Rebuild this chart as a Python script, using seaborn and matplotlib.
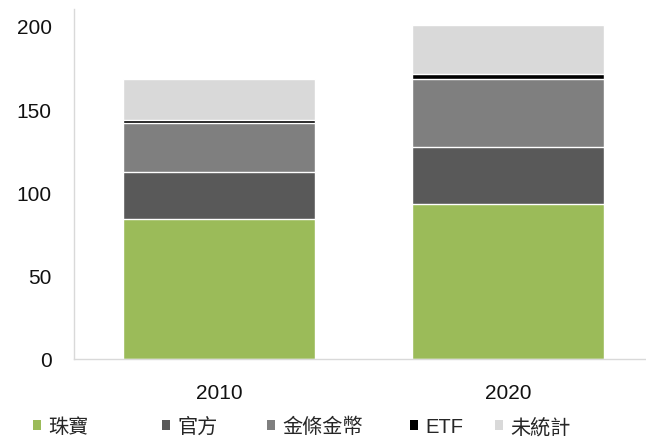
import numpy as np
import pandas as pd
import matplotlib
matplotlib.use("Agg")
import matplotlib.pyplot as plt
from matplotlib.patches import Patch
import seaborn as sns

# Gold demand by sector, stacked per year
years = ["2010", "2020"]
series_names = ["珠寶", "官方", "金條金幣", "ETF", "未統計"]
jewelry = [84, 93]
official = [28.5, 34.5]
bars_coins = [29, 40.5]
etf = [2, 3]
unaccounted = [24.5, 29.5]
colors = ["#9BBB59", "#595959", "#7F7F7F", "#000000", "#D9D9D9"]
yticks = [0, 50, 100, 150, 200]

sns.set_theme(style="white")
plt.rcParams["font.family"] = ["Liberation Sans", "Noto Sans CJK TC", "DejaVu Sans"]

fig = plt.figure(figsize=(6.46, 4.39), dpi=100)
ax = fig.add_axes([0.1146, 0.18, 0.8854, 0.797])

layers = [jewelry, official, bars_coins, etf, unaccounted]
cum = np.cumsum(np.array(layers, dtype=float), axis=0)
df = pd.DataFrame({"year": np.tile(years, len(layers)),
                   "layer": np.repeat(np.arange(len(layers)), len(years)),
                   "top": cum.ravel()})

# Draw cumulative totals from the tallest down so each segment shows its own band
for i in reversed(range(len(layers))):
    sub = df[df["layer"] == i]
    sns.barplot(data=sub, x="year", y="top", color=colors[i], saturation=1,
                width=0.666, edgecolor="white", linewidth=1.0, ax=ax,
                order=years)

ax.set_xlim(-0.502, 1.478)
ax.set_ylim(0, 210)
ax.set_yticks(yticks)
ax.set_xlabel("")
ax.set_ylabel("")
ax.tick_params(axis="y", length=0, pad=16, labelsize=15, labelcolor="#111111")
ax.tick_params(axis="x", length=0, pad=17, labelsize=15, labelcolor="#111111")
for side in ["top", "right"]:
    ax.spines[side].set_visible(False)
for side in ["left", "bottom"]:
    ax.spines[side].set_color("#D9D9D9")
    ax.spines[side].set_linewidth(1.0)

# One legend entry per series, spaced along the bottom edge
entry_x = [33, 162, 267, 410, 495]
for name, c, x in zip(series_names, colors, entry_x):
    fig.legend(handles=[Patch(facecolor=c, edgecolor="none", label=name)],
               loc="center left", bbox_to_anchor=(x / 646, 0.026),
               frameon=False, fontsize=14.5, handlelength=0.4,
               handleheight=0.4, handletextpad=0.35,
               labelcolor="#262626", borderaxespad=0, borderpad=0)

fig.savefig("out.png", dpi=100)
